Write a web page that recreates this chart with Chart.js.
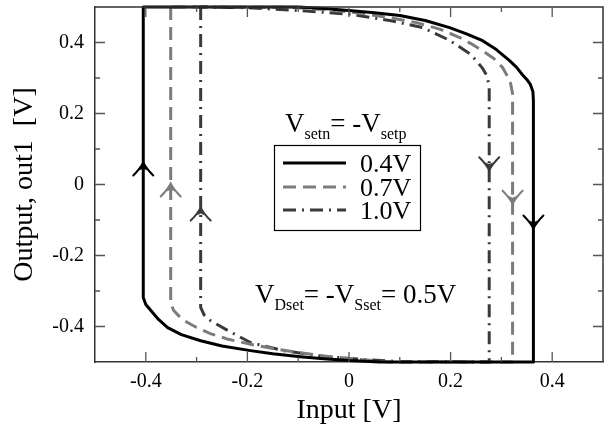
<!DOCTYPE html>
<html>
<head>
<meta charset="utf-8">
<title>Inverter hysteresis</title>
<script src="https://cdn.jsdelivr.net/npm/chart.js@4.4.1/dist/chart.umd.min.js"></script>
<style>
  html, body { margin: 0; padding: 0; background: #fff; }
  canvas { display: block; }
</style>
</head>
<body>
<canvas id="chart" width="604" height="430"></canvas>
<script>
// Transfer loops for three set voltages (input sweep, output response)
var seriesLabels = ['0.4V', '0.7V', '1.0V'];

var loop04X = [-0.405, -0.405, -0.400, -0.390, -0.375, -0.357, -0.330, -0.292, -0.250, -0.194, -0.150, -0.096, -0.050, 0.000, 0.060, 0.363,
               0.363, 0.362, 0.357, 0.350, 0.341, 0.330, 0.316, 0.290, 0.263, 0.230, 0.198, 0.150, 0.100, 0.050, 0.000, -0.050, -0.100, -0.405];
var loop04Y = [0.500, -0.318, -0.338, -0.355, -0.380, -0.403, -0.423, -0.440, -0.455, -0.468, -0.477, -0.485, -0.491, -0.496, -0.500, -0.500,
               0.237, 0.262, 0.282, 0.296, 0.310, 0.330, 0.349, 0.380, 0.405, 0.425, 0.442, 0.462, 0.476, 0.484, 0.490, 0.496, 0.500, 0.500];

var loop07X = [-0.351, -0.351, -0.345, -0.335, -0.325, -0.300, -0.273, -0.240, -0.194, -0.150, -0.096, -0.050, 0.000, 0.080, 0.322,
               0.322, 0.318, 0.310, 0.302, 0.285, 0.263, 0.240, 0.218, 0.180, 0.133, 0.080, 0.035, 0.000, -0.060, -0.120, -0.351];
var loop07Y = [0.500, -0.335, -0.355, -0.370, -0.383, -0.403, -0.420, -0.435, -0.450, -0.462, -0.474, -0.483, -0.490, -0.500, -0.500,
               0.256, 0.285, 0.310, 0.330, 0.355, 0.377, 0.397, 0.414, 0.437, 0.456, 0.470, 0.480, 0.486, 0.494, 0.499, 0.500];

var loop10X = [-0.292, -0.292, -0.285, -0.273, -0.239, -0.194, -0.129, -0.063, 0.000, 0.100, 0.276,
               0.276, 0.272, 0.263, 0.250, 0.237, 0.198, 0.145, 0.080, 0.000, -0.100, -0.200, -0.292];
var loop10Y = [0.500, -0.346, -0.368, -0.383, -0.411, -0.445, -0.468, -0.482, -0.490, -0.499, -0.500,
               0.273, 0.305, 0.327, 0.350, 0.369, 0.406, 0.442, 0.462, 0.480, 0.490, 0.498, 0.500];

// Direction markers on the switching edges: up on the left branch, down on the right
var upArrowX = [-0.405, -0.351, -0.292];
var upArrowY = [0.062, 0.003, -0.065];
var downArrowX = [0.363, 0.322, 0.276];
var downArrowY = [-0.124, -0.054, 0.040];

var axisMin = -0.5, axisMax = 0.5, tickStep = 0.1;

var SERIF = '"Liberation Serif", "DejaVu Serif", serif';
var lineStyles = [
    { color: '#000000', dash: [] },
    { color: '#7c7c7c', dash: [13, 7] },
    { color: '#3a3a3a', dash: [13, 6, 2, 6] }
];

function toPoints(xs, ys) {
    return xs.map(function (x, i) { return { x: x, y: ys[i] }; });
}

// only every other tenth gets a label; the rest are dropped (minor ticks drawn by the plugin)
function tickText(value) {
    var v = Math.round(value * 10);
    if (v % 2 !== 0) return null;
    return v === 0 ? '0' : (v / 10).toFixed(1);
}

var loops = [[loop04X, loop04Y], [loop07X, loop07Y], [loop10X, loop10Y]];
var datasets = loops.map(function (l, i) {
    return {
        label: seriesLabels[i],
        data: toPoints(l[0], l[1]),
        showLine: true,
        borderColor: lineStyles[i].color,
        borderWidth: 3,
        borderDash: lineStyles[i].dash,
        borderJoinStyle: 'round',
        pointRadius: 0,
        fill: false,
        tension: 0,
        clip: false
    };
});

function drawArrow(ctx, x, y, dir, color) {
    // dir = -1 points up, 1 points down
    ctx.save();
    ctx.translate(x, y);
    ctx.strokeStyle = color;
    ctx.fillStyle = color;
    ctx.lineWidth = 2;
    ctx.lineCap = 'round';
    ctx.beginPath();
    ctx.moveTo(-10, -dir * 13);
    ctx.quadraticCurveTo(-3, -dir * 6, 0, 0);
    ctx.quadraticCurveTo(3, -dir * 6, 10, -dir * 13);
    ctx.stroke();
    ctx.beginPath();
    ctx.moveTo(0, 0);
    ctx.lineTo(-4, -dir * 8);
    ctx.lineTo(0, -dir * 6);
    ctx.lineTo(4, -dir * 8);
    ctx.closePath();
    ctx.fill();
    ctx.restore();
}

// drawing text with subscripts: parts = [[text, isSub], ...]
function drawSubText(ctx, x, y, parts, big, small) {
    parts.forEach(function (p) {
        ctx.font = (p[1] ? small : big) + 'px ' + SERIF;
        ctx.fillText(p[0], x, p[1] ? y + 7 : y);
        x += ctx.measureText(p[0]).width;
    });
}

var framePlugin = {
    id: 'frame',
    afterDatasetsDraw: function (chart) {
        var ctx = chart.ctx;
        var xs = chart.scales.x, ys = chart.scales.y;
        var area = chart.chartArea;

        // top and right frame lines
        ctx.save();
        ctx.strokeStyle = '#333';
        ctx.lineWidth = 1.5;
        ctx.beginPath();
        ctx.moveTo(area.left, area.top);
        ctx.lineTo(area.right, area.top);
        ctx.lineTo(area.right, area.bottom);
        ctx.stroke();

        // inward ticks on all four sides
        ctx.strokeStyle = '#555';
        ctx.lineWidth = 1.3;
        ctx.beginPath();
        for (var i = -4; i <= 4; i++) {
            var len = (i % 2 === 0) ? 10 : 5;
            var px = xs.getPixelForValue(i / 10);
            var py = ys.getPixelForValue(i / 10);
            ctx.moveTo(px, area.bottom); ctx.lineTo(px, area.bottom - len);
            ctx.moveTo(px, area.top); ctx.lineTo(px, area.top + len);
            ctx.moveTo(area.left, py); ctx.lineTo(area.left + len, py);
            ctx.moveTo(area.right, py); ctx.lineTo(area.right - len, py);
        }
        ctx.stroke();
        ctx.restore();

        for (var k = 0; k < 3; k++) {
            drawArrow(ctx, xs.getPixelForValue(upArrowX[k]), ys.getPixelForValue(upArrowY[k]), -1, lineStyles[k].color);
            drawArrow(ctx, xs.getPixelForValue(downArrowX[k]), ys.getPixelForValue(downArrowY[k]), 1, lineStyles[k].color);
        }
    },
    afterDraw: function (chart) {
        var ctx = chart.ctx;
        ctx.save();
        ctx.fillStyle = '#000';
        ctx.textBaseline = 'alphabetic';

        // legend heading
        drawSubText(ctx, 285, 132, [['V', false], ['setn', true], ['= -V', false], ['setp', true]], 27, 16);

        // legend box
        var bx = 274.5, by = 145.5, bw = 146, bh = 85;
        ctx.fillStyle = '#fff';
        ctx.fillRect(bx, by, bw, bh);
        ctx.strokeStyle = '#000';
        ctx.lineWidth = 1.2;
        ctx.strokeRect(bx, by, bw, bh);

        var rowY = [163, 187, 210];
        for (var i = 0; i < 3; i++) {
            ctx.strokeStyle = lineStyles[i].color;
            ctx.lineWidth = 3;
            ctx.setLineDash(lineStyles[i].dash);
            ctx.beginPath();
            ctx.moveTo(283, rowY[i]);
            ctx.lineTo(346, rowY[i]);
            ctx.stroke();
            ctx.setLineDash([]);
            ctx.fillStyle = '#000';
            ctx.font = '26px ' + SERIF;
            ctx.fillText(seriesLabels[i], 360, rowY[i] + 9);
        }

        // bias annotation
        drawSubText(ctx, 255, 303, [['V', false], ['Dset', true], ['= -V', false], ['Sset', true], ['= 0.5V', false]], 27, 16);
        ctx.restore();
    }
};

var ctx = document.getElementById('chart').getContext('2d');
var chart = new Chart(ctx, {
    type: 'scatter',
    data: { datasets: datasets },
    options: {
        responsive: false,
        animation: false,
        devicePixelRatio: 1,
        layout: { padding: { top: 7, right: 1, left: 0, bottom: 0 } },
        plugins: {
            legend: { display: false },
            tooltip: { enabled: false }
        },
        scales: {
            x: {
                type: 'linear',
                min: axisMin,
                max: axisMax,
                grid: { display: false, drawTicks: false },
                border: { display: true, color: '#333', width: 1.5 },
                ticks: {
                    stepSize: tickStep,
                    autoSkip: false,
                    maxRotation: 0,
                    padding: 8,
                    color: '#000',
                    font: { family: SERIF, size: 20 },
                    callback: tickText
                },
                title: {
                    display: true,
                    text: 'Input [V]',
                    color: '#000',
                    font: { family: SERIF, size: 28 },
                    padding: { top: 0, bottom: 3 }
                },
                afterFit: function (scale) {
                    scale.height = 68;
                    scale.paddingLeft = 0;
                    scale.paddingRight = 0;
                }
            },
            y: {
                type: 'linear',
                min: axisMin,
                max: axisMax,
                grid: { display: false, drawTicks: false },
                border: { display: true, color: '#333', width: 1.5 },
                ticks: {
                    stepSize: tickStep,
                    autoSkip: false,
                    padding: 11,
                    color: '#000',
                    font: { family: SERIF, size: 20 },
                    callback: tickText
                },
                title: {
                    display: true,
                    text: 'Output, out1  [V]',
                    color: '#000',
                    font: { family: SERIF, size: 28 },
                    padding: { top: 8, bottom: 0 }
                },
                afterFit: function (scale) {
                    scale.width = 95;
                    scale.paddingTop = 0;
                    scale.paddingBottom = 0;
                }
            }
        }
    },
    plugins: [framePlugin]
});
</script>
</body>
</html>
